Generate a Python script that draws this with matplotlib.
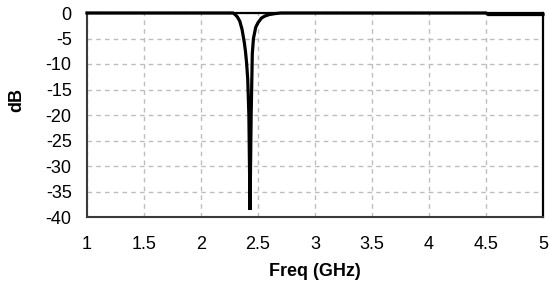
import matplotlib
matplotlib.use("Agg")
import matplotlib.pyplot as plt

# Data (frequency in GHz, magnitude in dB)
freq_ghz = [1.00, 2.28, 2.30, 2.32, 2.34, 2.36, 2.37, 2.38, 2.39, 2.40, 2.41, 2.42,
            2.43, 2.44, 2.45, 2.46, 2.48, 2.50, 2.53, 2.56, 2.60, 2.65, 2.70,
            4.50, 4.52, 4.60, 4.80, 5.00]
mag_db = [0.0, 0.0, -0.3, -0.8, -1.6, -3.2, -4.5, -5.8, -7.5, -9.8, -13.0, -20.0,
          -38.6, -20.0, -8.0, -5.0, -2.8, -1.9, -1.0, -0.6, -0.3, -0.12, 0.0,
          0.0, -0.3, -0.3, -0.3, -0.3]

x_ticks = [1, 1.5, 2, 2.5, 3, 3.5, 4, 4.5, 5]
x_tick_labels = ["1", "1.5", "2", "2.5", "3", "3.5", "4", "4.5", "5"]
y_ticks = [0, -5, -10, -15, -20, -25, -30, -35, -40]
y_tick_labels = ["0", "-5", "-10", "-15", "-20", "-25", "-30", "-35", "-40"]

plt.rcParams['font.family'] = ['Liberation Sans', 'DejaVu Sans']

fig = plt.figure(figsize=(5.5, 2.86), dpi=100)
ax = fig.add_axes([87/550, 1-217/286, (543-87)/550, (217-13)/286])

ax.plot(freq_ghz, mag_db, color='black', lw=2.3, clip_on=False, zorder=5,
        solid_joinstyle='miter')

ax.set_xlim(1, 5)
ax.set_ylim(-40, 0)
ax.set_xticks(x_ticks)
ax.set_xticklabels(x_tick_labels)
ax.set_yticks(y_ticks)
ax.set_yticklabels(y_tick_labels)
ax.tick_params(axis='x', length=0, pad=14, labelsize=13)
ax.tick_params(axis='y', length=0, pad=11, labelsize=13)

ax.grid(True, color='#bdbdbd', lw=1.0, linestyle=(0, (3.3, 3.0)))
ax.set_axisbelow(True)

for side in ['left', 'bottom']:
    ax.spines[side].set_color('#3a3a3a')
    ax.spines[side].set_linewidth(1.5)
ax.spines['right'].set_color('black')
ax.spines['right'].set_linewidth(1.6)
ax.spines['top'].set_color('black')
ax.spines['top'].set_linewidth(1.6)

fig.text(315/550, 1-271/286, "Freq (GHz)", ha='center', va='center',
         fontsize=13, fontweight='bold')
fig.text(17/550, 1-100/286, "dB", ha='center', va='center', rotation=90,
         fontsize=13, fontweight='bold')

fig.savefig("out.png", dpi=100)
